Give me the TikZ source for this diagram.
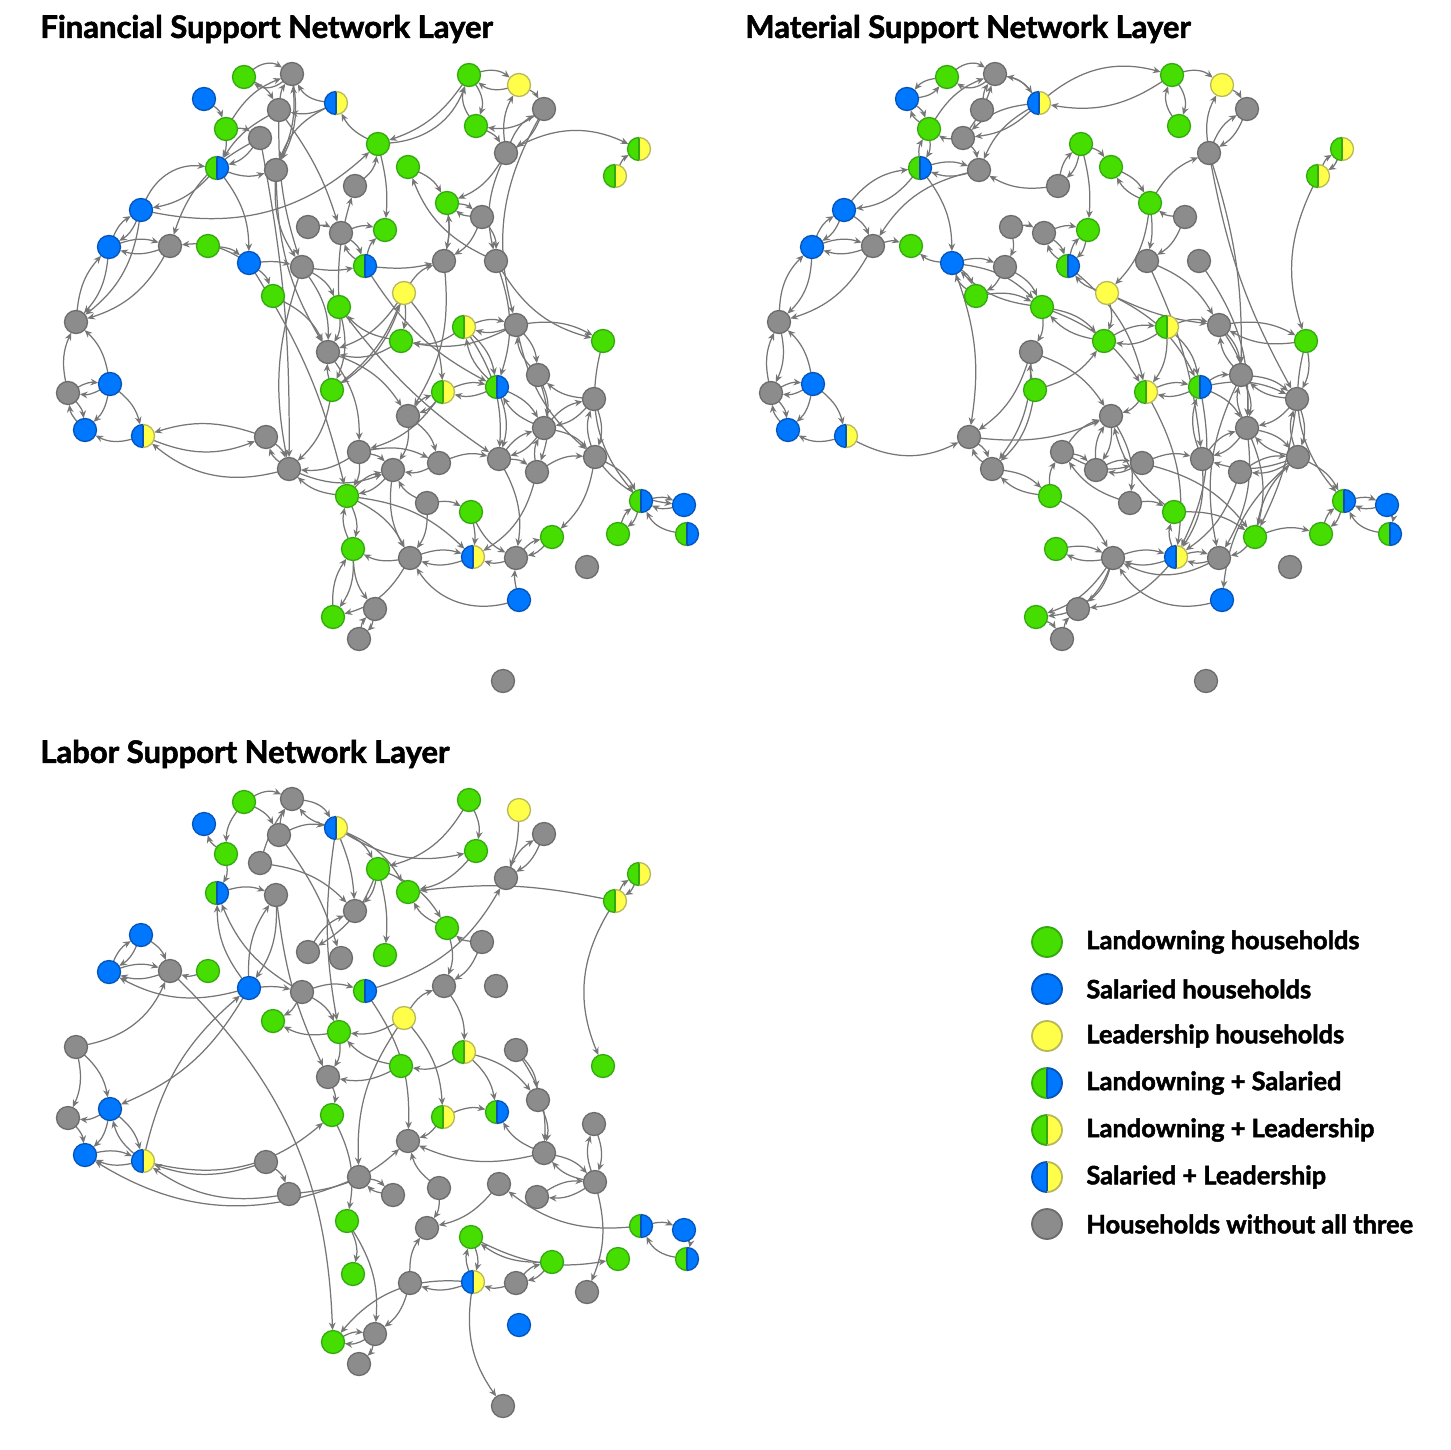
\documentclass[tikz,border=0pt]{standalone}
\usepackage{fontspec}
\setmainfont{Lato}[BoldFeatures={FakeBold=1.8}]
\usetikzlibrary{arrows.meta}
\pgfdeclarelayer{bg}
\pgfsetlayers{bg,main}
\definecolor{gF}{HTML}{45DE00}
\definecolor{gB}{HTML}{33A811}
\definecolor{bF}{HTML}{0077FF}
\definecolor{bB}{HTML}{0654B8}
\definecolor{yF}{HTML}{FFFF4A}
\definecolor{yB}{HTML}{B8B85A}
\definecolor{nF}{HTML}{8C8C8C}
\definecolor{nB}{HTML}{6C6C6C}
\definecolor{eC}{HTML}{767676}
\def\hr{5.75pt}
\def\hw{0.65pt}
\tikzset{
 nd/.style={circle, minimum size=11.5pt, inner sep=0pt, outer sep=0pt, line width=0.65pt},
 lgn/.style={circle, minimum size=15pt, inner sep=0pt, outer sep=0pt, line width=0.9pt},
 tL/.style={fill=gF, draw=gB},
 tS/.style={fill=bF, draw=bB},
 tY/.style={fill=yF, draw=yB},
 tN/.style={fill=nF, draw=nB},
 tLS/.style={},
 tLY/.style={},
 tSL/.style={},
 ed/.style={draw=eC, line width=0.62pt, -{Stealth[length=3.8pt,width=3.3pt]}, shorten >=0.2pt},
 ttl/.style={anchor=west, inner sep=0pt, font=\fontsize{15.5}{17}\selectfont\bfseries},
 lgt/.style={anchor=west, inner sep=0pt, font=\fontsize{12.7}{14}\selectfont\bfseries},
}
\newcommand\halfnode[6]{%
 \fill[#2] (#1.north) arc[start angle=90,end angle=270,radius=\hr] -- cycle;
 \fill[#4] (#1.south) arc[start angle=-90,end angle=90,radius=\hr] -- cycle;
 \draw[#6,line width=0.6pt] (#1.north) -- (#1.south);
 \draw[#3,line width=\hw] (#1.north) arc[start angle=90,end angle=270,radius=\hr];
 \draw[#5,line width=\hw] (#1.south) arc[start angle=-90,end angle=90,radius=\hr];
}
\newcommand\hnL[1]{}
\newcommand\hnS[1]{}
\newcommand\hnY[1]{}
\newcommand\hnN[1]{}
\newcommand\hnLS[1]{\halfnode{#1}{gF}{gB}{bF}{bB}{bB}}
\newcommand\hnLY[1]{\halfnode{#1}{gF}{gB}{yF}{yB}{gB}}
\newcommand\hnSL[1]{\halfnode{#1}{bF}{bB}{yF}{yB}{bB}}
\newcommand\mknodes[3]{%
 \def\pfx{#1}\def\offx{#2}\def\offy{#3}%
 \foreach \ni/\nx/\ny/\nt in {1/244/77/L,2/292/74/N,3/204/99/S,4/279/110/N,5/336/103/SL,6/226/129/L,7/260/138/N,8/378/144/L,9/217/168/LS,10/276/170/N,11/355/186/N,12/141/210/S,13/109/247/S,14/170/246/N,15/208/246/L,16/249/263/S,17/308/227/N,18/341/233/N,19/385/230/L,20/302/267/N,21/365/266/LS,22/273/296/L,23/339/307/L,24/76/322/N,25/328/352/N,26/404/293/Y,27/401/341/L,28/469/75/L,29/519/85/Y,30/544/109/N,31/476/126/L,32/506/153/N,33/639/149/LY,34/615/176/LY,35/408/167/L,36/447/203/L,37/482/217/N,38/444/261/N,39/496/261/N,40/464/327/LY,41/516/325/N,42/603/341/L,43/68/393/N,44/110/384/S,45/85/430/S,46/143/436/SL,47/266/437/N,48/289/469/N,49/332/390/L,50/359/452/N,51/393/470/N,52/347/496/L,53/353/549/L,54/333/617/L,55/375/609/N,56/359/639/N,57/443/392/LY,58/497/387/LS,59/538/375/N,60/594/399/N,61/408/416/N,62/544/428/N,63/439/463/N,64/499/459/N,65/537/472/N,66/595/457/N,67/427/503/N,68/471/512/L,69/641/501/LS,70/684/505/S,71/618/534/L,72/687/534/LS,73/552/537/L,74/410/558/N,75/473/557/SL,76/516/558/N,77/587/567/N,78/519/600/S,79/503/681/N}
 {\node[nd,t\nt] (\pfx\ni) at (\nx+\offx,\ny+\offy) {};
  \csname hn\nt\endcsname{\pfx\ni}}%
}
\newcommand\mkedges[2]{%
 \def\pfx{#1}%
 \foreach \na/\nb/\nc in {#2} {\pgfmathsetmacro\bnd{1.8*\nc}\draw[ed] (\pfx\na) to[bend left=\bnd] (\pfx\nb);}%
}
\begin{document}
\begin{tikzpicture}[x=0.5pt,y=-0.5pt]
\useasboundingbox (0,0) rectangle (1450,1450);
\node[ttl] (tf) at (40,29) {Financial Support Network Layer};
\node[ttl] (tm) at (745,29) {Material Support Network Layer};
\node[ttl] (tl) at (40,754) {Labor Support Network Layer};
\mknodes{f}{0}{0}
\mknodes{m}{703}{0}
\mknodes{l}{0}{725}
\begin{pgfonlayer}{bg}
\fill[white] (0,0) rectangle (1450,1450);
\mkedges{f}{1/2/20,2/1/20,1/4/10,4/2/8,6/2/10,10/2/-8,5/2/15,5/4/10,3/6/10,6/9/8,4/9/-8,7/9/10,12/9/20,9/12/10,12/8/-15,12/13/10,13/12/10,13/14/10,14/13/10,12/24/12,14/24/12,13/24/10,24/13/10,7/14/-12,15/16/10,9/16/10,16/14/-10,16/22/10,5/10/-12,17/18/10,18/19/10,18/21/10,21/18/10,20/25/10,20/23/10,23/25/10,27/25/12,11/8/-12,23/11/5,10/20/-10,28/29/15,29/28/15,28/31/15,31/28/15,29/30/10,32/29/10,30/31/12,30/32/10,32/30/10,32/33/15,34/33/10,8/28/-18,28/8/10,8/5/10,35/36/10,32/36/10,37/36/10,36/37/10,8/19/5,32/39/-10,30/41/-12,36/38/5,37/38/10,38/36/-5,39/35/12,21/19/10,21/38/-5,26/38/10,41/42/10,40/27/12,27/23/10,26/27/5,39/42/-12,40/58/10,58/40/10,58/57/10,57/61/10,61/57/10,41/59/10,59/41/10,60/62/10,62/60/10,66/60/10,60/66/10,58/62/10,62/58/10,62/64/10,64/62/10,65/66/10,62/66/10,66/69/10,66/70/-12,69/70/10,70/69/10,72/69/15,69/71/10,71/69/10,42/69/-15,66/73/10,50/51/10,50/52/10,51/52/10,52/51/10,49/25/5,61/51/10,63/51/10,67/51/10,67/68/10,68/75/5,68/76/-10,74/75/10,75/74/10,52/75/10,78/74/20,78/76/5,76/73/10,73/76/10,65/75/12,53/54/10,54/53/10,53/55/-10,55/56/10,56/55/10,74/54/12,43/44/10,44/43/10,43/45/10,45/43/10,44/45/10,44/46/10,46/45/12,43/24/10,44/24/-10,46/47/-12,47/46/-10,48/46/15,47/48/10,48/47/10,20/48/-8,49/48/10,50/48/10,52/48/10,53/52/10,52/53/10,16/20/5,20/21/-5,4/18/5,7/48/3,16/52/5,26/49/10,25/50/10,40/64/10,59/65/10,41/66/-10,57/50/10,21/58/-8,26/57/10,23/64/-5,48/51/-12,41/27/10,26/25/10,49/26/-8,25/61/10,40/41/10,41/40/10,37/39/10,31/32/10,38/61/10,10/25/-8,4/20/-5,2/10/10,9/10/-10,6/7/10,22/25/10,23/49/10,61/63/10,63/64/10,64/65/10,65/62/10,59/62/10,60/59/10,50/63/10,51/74/-10,52/74/10,74/53/10,67/74/10,76/75/10,64/76/10,57/58/10,39/58/10,58/64/10}
\mkedges{m}{1/3/-12,3/1/-12,3/6/10,6/3/10,1/2/20,2/1/20,4/2/8,6/2/10,7/2/-5,5/2/-12,2/5/12,5/7/10,5/7/-10,7/6/10,6/9/10,9/6/10,7/10/10,9/10/10,10/9/10,5/10/-10,9/12/12,12/9/12,12/13/10,13/12/10,13/14/10,14/13/10,12/14/10,14/15/10,16/15/10,9/16/10,10/14/-12,11/10/10,17/20/10,18/21/10,21/18/10,16/22/10,16/23/10,22/23/10,20/23/10,23/16/10,13/24/12,24/13/12,14/24/12,8/11/10,11/8/10,28/5/12,5/28/15,28/29/15,28/31/15,31/28/15,29/30/10,32/29/10,30/32/10,32/30/10,8/35/10,35/36/10,36/35/10,36/32/10,36/38/5,37/38/10,37/36/10,32/59/5,32/60/-5,34/42/-12,33/34/10,34/33/10,26/21/10,36/26/10,26/41/-5,38/41/10,41/42/10,42/41/10,40/27/12,27/23/10,23/27/10,21/19/10,19/21/10,8/19/5,43/44/10,44/43/10,43/45/10,45/43/10,44/45/10,44/46/10,46/45/12,43/24/10,24/43/10,44/24/-10,46/47/-15,47/48/10,48/47/10,49/48/10,25/47/10,16/47/8,47/61/-8,52/48/10,48/52/10,49/27/-10,49/25/5,50/51/10,50/61/10,61/51/10,51/61/10,50/63/-12,63/51/10,51/63/10,63/64/10,64/62/10,62/64/10,66/64/10,59/60/10,60/59/10,59/62/10,62/59/10,62/66/10,66/62/10,60/66/10,66/60/10,58/59/10,58/60/10,57/58/10,58/57/10,57/61/10,40/57/10,40/58/10,42/69/-15,66/69/10,69/70/10,70/69/10,72/69/15,70/72/10,71/69/10,69/71/10,73/71/10,62/73/10,63/73/10,75/68/10,74/75/10,75/74/10,76/75/10,75/76/10,73/76/10,66/78/-12,78/74/20,76/74/15,74/53/10,53/74/10,74/55/10,75/55/12,74/54/10,74/54/18,54/56/10,56/55/10,52/74/10,52/50/10,57/75/10,58/75/10,64/75/10,67/50/10,68/61/10,41/59/10,59/41/10,41/62/10,58/62/10,60/62/10,27/40/10,40/41/10,39/62/10,38/64/5,26/58/10,21/57/10,23/57/10,25/61/10,61/67/10,67/68/10,68/73/10,65/66/10,66/65/10,65/75/10,62/76/10,60/73/5,59/76/-10,42/60/10,73/66/10,64/58/10,16/20/10,17/18/10,18/19/10,20/22/10,22/16/10,26/27/10,23/25/10,25/48/10}
\mkedges{l}{1/2/15,1/4/10,2/5/15,4/2/8,7/2/5,5/2/10,1/6/-10,6/3/10,4/5/10,6/9/10,9/10/10,8/11/10,12/13/10,13/12/10,12/14/10,13/14/10,14/13/10,24/14/-15,16/13/12,15/14/10,16/10/10,10/16/10,16/9/10,20/9/10,17/11/10,4/18/5,16/20/5,20/21/10,20/22/10,23/22/10,20/23/10,27/25/10,5/8/10,5/31/-12,5/35/10,28/31/10,28/8/12,31/35/10,29/32/5,30/32/10,32/30/10,34/33/10,33/34/10,34/35/-5,34/42/-15,8/36/10,36/35/10,8/19/5,37/36/10,37/38/10,36/38/10,21/32/-12,26/38/10,38/40/10,40/27/12,27/23/10,26/23/10,5/11/5,5/23/-5,8/17/10,24/43/10,24/44/10,44/43/10,43/45/10,44/45/10,46/44/10,44/46/10,45/46/10,46/45/10,16/44/10,46/16/10,14/54/12,46/49/-15,50/45/15,47/46/10,48/46/12,47/48/10,48/61/-10,50/51/10,51/50/10,57/61/10,57/58/10,62/61/10,63/61/10,62/66/10,66/62/10,66/65/10,65/66/10,59/62/10,60/66/10,66/60/10,62/58/10,63/67/10,64/67/10,69/64/12,69/70/10,72/69/15,70/72/10,68/71/-10,73/68/10,75/68/10,68/75/10,76/73/10,73/76/10,76/75/10,75/74/10,75/54/-15,55/54/10,54/55/10,55/56/10,74/55/10,52/55/10,52/53/10,49/52/10,25/49/10,75/79/-12,74/67/10,66/77/10,21/61/10,23/25/10,26/57/10,40/58/10,40/59/10,41/59/10,41/62/10,26/50/-10,10/25/-5,7/11/10}
\end{pgfonlayer}
% legend
\def\hr{7.5pt}
\def\hw{0.9pt}
\foreach \k/\t/\txt in {0/L/Landowning households,1/S/Salaried households,2/Y/Leadership households,3/LS/Landowning + Salaried,4/LY/Landowning + Leadership,5/SL/Salaried + Leadership,6/N/Households without all three}
{\node[lgn,t\t] (lg\k) at (1047,942+47*\k) {};
 \csname hn\t\endcsname{lg\k}
 \node[lgt] (lt\k) at (1086,942+47*\k) {\txt};}
\end{tikzpicture}
\end{document}
